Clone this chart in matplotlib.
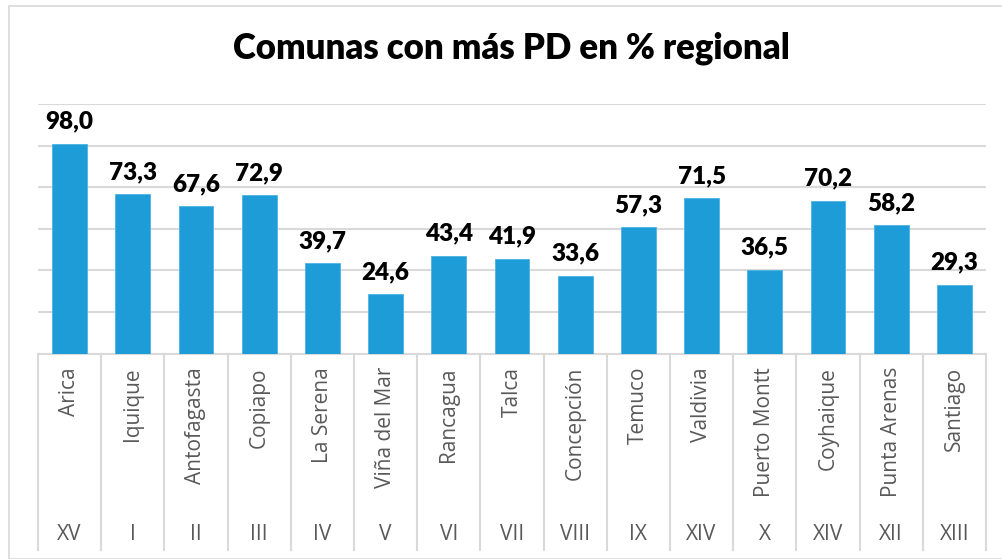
import matplotlib
matplotlib.use("Agg")
import matplotlib.pyplot as plt
import numpy as np

comunas = ["Arica", "Iquique", "Antofagasta", "Copiapo", "La Serena", "Viña del Mar",
           "Rancagua", "Talca", "Concepción", "Temuco", "Valdivia", "Puerto Montt",
           "Coyhaique", "Punta Arenas", "Santiago"]
regiones = ["XV", "I", "II", "III", "IV", "V", "VI", "VII", "VIII", "IX", "XIV", "X",
            "XIV", "XII", "XIII"]
valores = [98.0, 73.3, 67.6, 72.9, 39.7, 24.6, 43.4, 41.9, 33.6, 57.3, 71.5, 36.5,
           70.2, 58.2, 29.3]
titulo = "Comunas con más PD en % regional"

W, H = 1002, 559
fig = plt.figure(figsize=(W / 100, H / 100), dpi=100)
fig.patch.set_facecolor("white")

# outer chart border
border = plt.Rectangle((8.5 / W, 0), 1.2, 1 - 6 / H, transform=fig.transFigure,
                       fill=False, edgecolor="#D9D9D9", linewidth=1.2, zorder=0)
fig.add_artist(border)

left, right = 38 / W, 986 / W
bottom, top = 1 - 353.5 / H, 1 - 104 / H
ax = fig.add_axes([left, bottom, right - left, top - bottom])

ymin, ymax = -4.3, 117.4
n = len(valores)
x = np.arange(n)
ax.bar(x, np.array(valores) - ymin, bottom=ymin, width=0.55, color="#1E9CD7",
       edgecolor="#4DB3E4", linewidth=0.6, zorder=3)
for xi, v in zip(x, valores):
    ax.annotate(f"{v:.1f}".replace(".", ","), (xi, v), xytext=(0, 8),
                textcoords="offset points", ha="center", va="bottom",
                fontsize=17.5, fontweight="heavy", family="Lato", color="#000000",
                zorder=4)

ax.set_xlim(-0.5, n - 0.5)
ax.set_ylim(ymin, ymax)
ax.set_yticks(np.linspace(ymin, ymax, 7))
ax.yaxis.grid(True, color="#D9D9D9", linewidth=1.5, zorder=0)
ax.tick_params(left=False, labelleft=False, bottom=False, labelbottom=False)
for s in ["top", "right", "left"]:
    ax.spines[s].set_visible(False)
ax.spines["bottom"].set_color("#D9D9D9")
ax.spines["bottom"].set_linewidth(1.5)

# two-level category axis
sep_bottom = 1 - 550 / H
for k in range(n + 1):
    xf = left + (right - left) * k / n
    fig.add_artist(plt.Line2D([xf, xf], [bottom, sep_bottom], transform=fig.transFigure,
                              color="#D9D9D9", linewidth=1.5))
for k in range(n):
    xf = left + (right - left) * (k + 0.5) / n
    fig.text(xf, 1 - 367 / H, comunas[k], rotation=90, ha="center", va="top",
             fontsize=15, family="Open Sans", color="#595959")
    fig.text(xf, 1 - 535 / H, regiones[k], ha="center", va="center",
             fontsize=15, family="Open Sans", color="#595959")

fig.text(511 / W, 1 - 48 / H, titulo, ha="center", va="center", fontsize=25,
         fontweight="heavy", family="Lato", color="#000000")

fig.savefig("out.png", dpi=100, facecolor="white")
